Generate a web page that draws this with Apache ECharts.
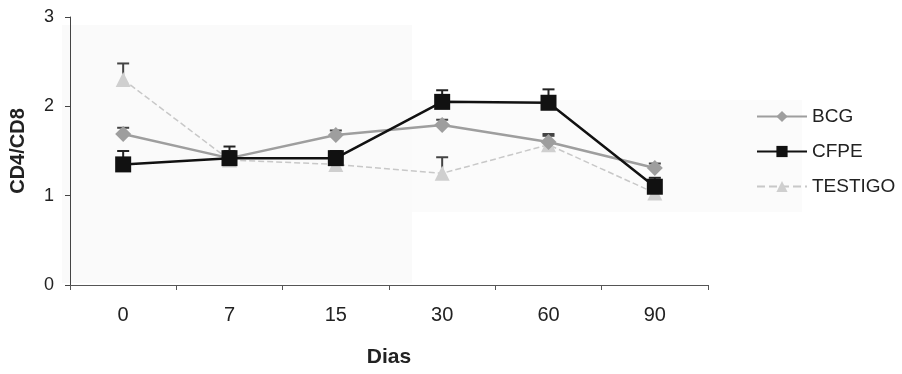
<!DOCTYPE html>
<html><head><meta charset="utf-8">
<script src="https://cdn.jsdelivr.net/npm/echarts@6/dist/echarts.min.js"></script>
<style>html,body{margin:0;padding:0;background:#fff}#c{width:902px;height:374px}</style>
</head><body><div id="c"></div>
<script>
const categories = ['0','7','15','30','60','90'];
const bcg = [1.69, 1.42, 1.68, 1.79, 1.60, 1.31];
const bcgErr = [0.07, 0.05, 0.05, 0.06, 0.07, 0.05];
const cfpe = [1.35, 1.42, 1.42, 2.05, 2.04, 1.10];
const cfpeErr = [0.15, 0.13, 0.08, 0.13, 0.15, 0.10];
const testigo = [2.30, 1.40, 1.35, 1.25, 1.57, 1.03];
const testigoErr = [0.18, 0.10, 0.08, 0.18, 0.12, 0.08];
const yTicks = [0, 1, 2, 3];

const chart = echarts.init(document.getElementById('c'));
function errSeries(name, vals, errs, color, z) {
  return {
    type: 'custom', name: name + '_err', z: z, silent: true,
    data: vals.map((v, i) => [i, v, v + errs[i]]),
    renderItem: function (params, api) {
      const p0 = api.coord([api.value(0), api.value(1)]);
      const p1 = api.coord([api.value(0), api.value(2)]);
      const hw = 6;
      return {
        type: 'group', children: [
          {type: 'line', shape: {x1: p0[0], y1: p0[1], x2: p1[0], y2: p1[1]}, style: {stroke: color, lineWidth: 2}},
          {type: 'line', shape: {x1: p1[0] - hw, y1: p1[1], x2: p1[0] + hw, y2: p1[1]}, style: {stroke: color, lineWidth: 2}}
        ]
      };
    }
  };
}
chart.setOption({
  animation: false,
  backgroundColor: '#fff',
  graphic: [
    {type: 'rect', z: -10, shape: {x: 62, y: 25, width: 350, height: 258}, style: {fill: '#fafafa'}},
    {type: 'rect', z: -10, shape: {x: 412, y: 100, width: 390, height: 112}, style: {fill: '#fbfbfb'}}
  ],
  grid: {left: 70, right: 194, top: 17, bottom: 89},
  legend: {
    orient: 'vertical', left: 751, top: 102, itemWidth: 50, itemHeight: 14, itemGap: 16,
    textStyle: {fontFamily: 'Liberation Sans', fontSize: 19, color: '#222'},
    data: ['BCG', 'CFPE', 'TESTIGO']
  },
  xAxis: {
    type: 'category', data: categories, boundaryGap: true,
    name: 'Dias', nameLocation: 'middle', nameGap: 62,
    nameTextStyle: {fontFamily: 'Liberation Sans', fontSize: 21, fontWeight: 'bold', color: '#222'},
    axisLine: {lineStyle: {color: '#555', width: 1}},
    axisTick: {show: true, length: 5, lineStyle: {color: '#555'}},
    axisLabel: {fontFamily: 'Liberation Sans', fontSize: 20, color: '#222', margin: 20}
  },
  yAxis: {
    type: 'value', min: 0, max: 3, interval: 1,
    name: 'CD4/CD8', nameLocation: 'middle', nameGap: 42, nameRotate: 90,
    nameTextStyle: {fontFamily: 'Liberation Sans', fontSize: 20, fontWeight: 'bold', color: '#222'},
    axisLine: {show: true, lineStyle: {color: '#444', width: 1}},
    axisTick: {show: true, length: 5, lineStyle: {color: '#444'}},
    splitLine: {show: false},
    axisLabel: {fontFamily: 'Liberation Sans', fontSize: 18, color: '#222', margin: 16,
      formatter: v => yTicks.includes(v) ? String(v) : ''}
  },
  series: [
    errSeries('TESTIGO', testigo, testigoErr, '#444', 2),
    errSeries('BCG', bcg, bcgErr, '#444', 2),
    errSeries('CFPE', cfpe, cfpeErr, '#222', 2),
    {name: 'TESTIGO', type: 'line', data: testigo, z: 3,
      symbol: 'triangle', symbolSize: 15,
      itemStyle: {color: '#cfcfcf'}, lineStyle: {color: '#c8c8c8', width: 1.5, type: 'dashed'}},
    {name: 'BCG', type: 'line', data: bcg, z: 4,
      symbol: 'diamond', symbolSize: 16,
      itemStyle: {color: '#9e9e9e'}, lineStyle: {color: '#9e9e9e', width: 2.5}},
    {name: 'CFPE', type: 'line', data: cfpe, z: 5,
      symbol: 'rect', symbolSize: 16,
      itemStyle: {color: '#111'}, lineStyle: {color: '#111', width: 2.5}}
  ]
});
</script></body></html>
